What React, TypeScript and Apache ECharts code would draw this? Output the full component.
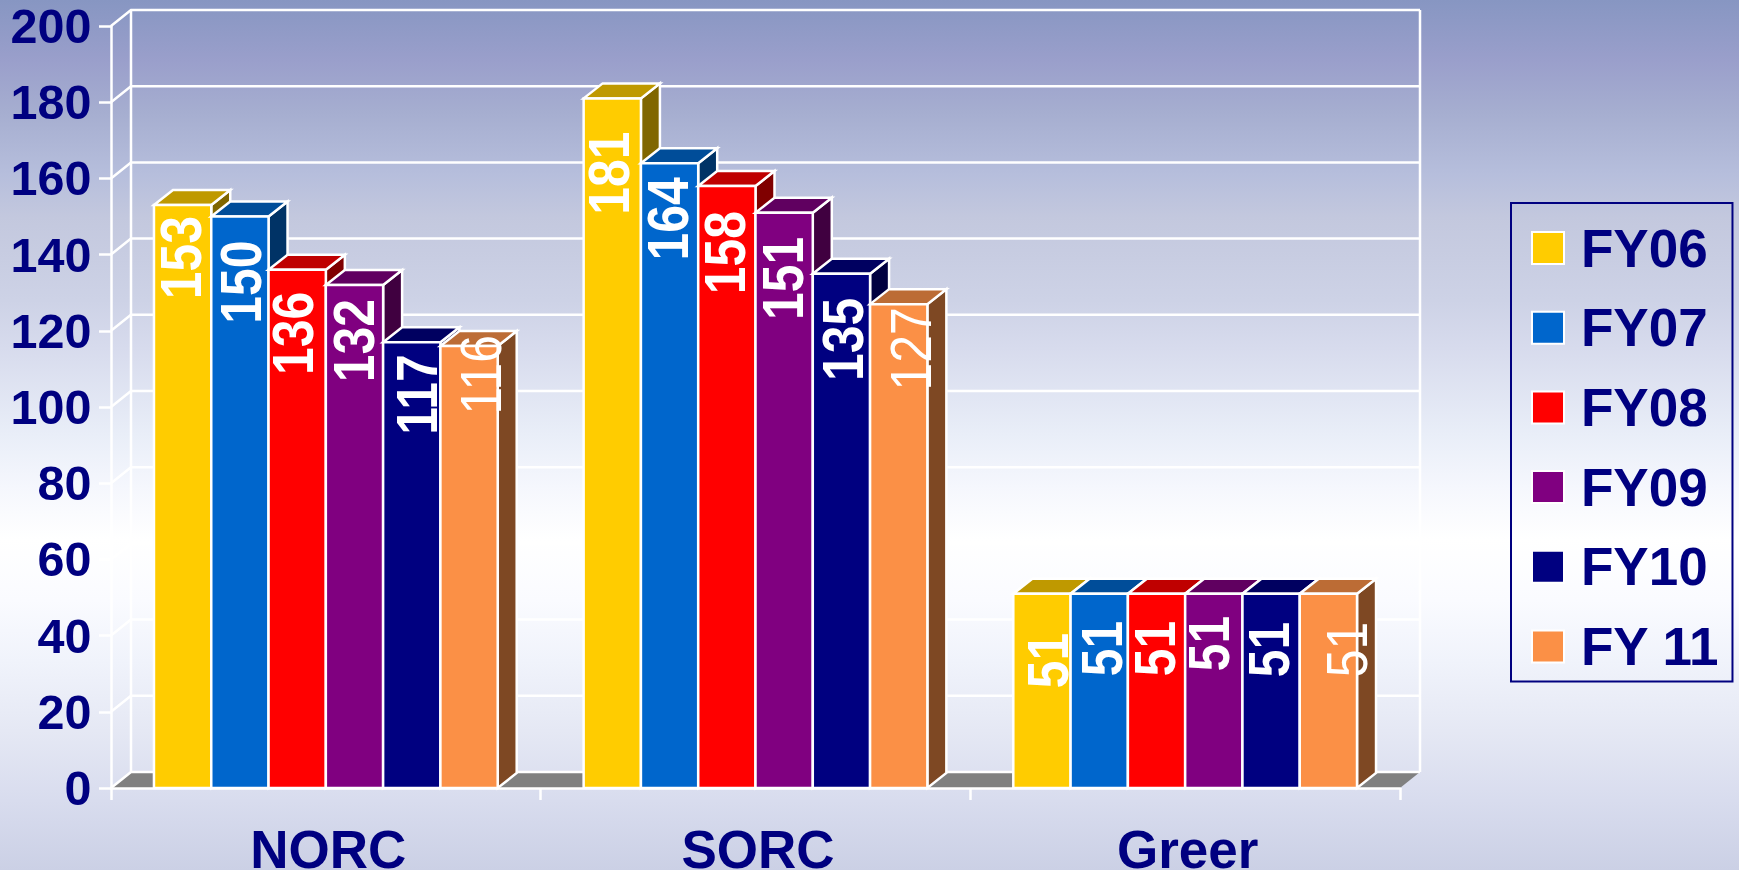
import React, { useEffect, useRef } from "react";
import * as echarts from "echarts";

const categories = ["NORC", "SORC", "Greer"];
const seriesNames = ["FY06", "FY07", "FY08", "FY09", "FY10", "FY 11"];
const fy06 = [153, 181, 51];
const fy07 = [150, 164, 51];
const fy08 = [136, 158, 51];
const fy09 = [132, 151, 51];
const fy10 = [117, 135, 51];
const fy11 = [116, 127, 51];
const yTicks = [0, 20, 40, 60, 80, 100, 120, 140, 160, 180, 200];

const seriesValues = [fy06, fy07, fy08, fy09, fy10, fy11];
const seriesColors = ["#FFCC00", "#0066CC", "#FF0000", "#800080", "#000080", "#FB9046"];

// hand-placed label offsets of the original slide (series by category)
const labelShiftX = [
  [-2, -4, 6],
  [1, -2, 3],
  [-4, -2, -2],
  [-1, -1, -5],
  [5, 1, -2],
  [12, 12, 18],
];
const labelShiftY = [
  [11, 33, 39],
  [24, 14, 27],
  [22, 25, 27],
  [14, 24, 22],
  [12, 24, 28],
  [-11, 3, 28],
];

const NAVY = "#000080";
const FONT = '"Liberation Sans", Arial, sans-serif';
const WALL_DX = 20;
const WALL_DY = 16;
const BOX_DX = 19;
const BOX_DY = 15;
const LINE_W = 2.5;

function shade(hex: string, k: number) {
  const n = parseInt(hex.slice(1), 16);
  const r = Math.round(((n >> 16) & 255) * k);
  const g = Math.round(((n >> 8) & 255) * k);
  const b = Math.round((n & 255) * k);
  return `rgb(${r},${g},${b})`;
}

function renderWall(params: any, api: any) {
  const v = api.value(1);
  const cs = params.coordSys;
  const y = api.coord([0, v])[1];
  const x0 = cs.x;
  const x1 = cs.x + cs.width;
  const line = { stroke: "#ffffff", lineWidth: LINE_W, fill: "none" };
  const children: any[] = [];
  if (v === 0) {
    children.push({
      type: "polygon",
      shape: {
        points: [
          [x0, y],
          [x0 + WALL_DX, y - WALL_DY],
          [x1 + WALL_DX, y - WALL_DY],
          [x1, y],
        ],
      },
      style: { fill: "#808080", stroke: "none" },
    });
    const top = cs.y - WALL_DY;
    const bottom = y - WALL_DY;
    [x0 + WALL_DX, x1 + WALL_DX].forEach((x) =>
      children.push({
        type: "line",
        shape: { x1: x, y1: top, x2: x, y2: bottom },
        style: { stroke: "#ffffff", lineWidth: LINE_W },
      })
    );
  }
  children.push({
    type: "polyline",
    shape: {
      points: [
        [x0, y],
        [x0 + WALL_DX, y - WALL_DY],
        [x1 + WALL_DX, y - WALL_DY],
      ],
    },
    style: line,
  });
  return { type: "group", children };
}

function makeRenderBox(seriesIdx: number) {
  const color = seriesColors[seriesIdx];
  return (_params: any, api: any) => {
    const cat = api.value(0);
    const val = api.value(1);
    const [cx, yTop] = api.coord([cat, val]);
    const yBase = api.coord([cat, 0])[1];
    const barW = api.size([1, 0])[0] / 7.5;
    const xL = cx - 3 * barW + seriesIdx * barW;
    const xR = xL + barW;
    const edge = { stroke: "#ffffff", lineWidth: LINE_W, lineJoin: "miter" };
    return {
      type: "group",
      children: [
        {
          type: "polygon",
          shape: {
            points: [
              [xR, yTop],
              [xR + BOX_DX, yTop - BOX_DY],
              [xR + BOX_DX, yBase - BOX_DY],
              [xR, yBase],
            ],
          },
          style: { fill: shade(color, 0.5), ...edge },
        },
        {
          type: "polygon",
          shape: {
            points: [
              [xL, yTop],
              [xL + BOX_DX, yTop - BOX_DY],
              [xR + BOX_DX, yTop - BOX_DY],
              [xR, yTop],
            ],
          },
          style: { fill: shade(color, 0.75), ...edge },
        },
        {
          type: "rect",
          shape: { x: xL, y: yTop, width: barW, height: yBase - yTop },
          style: { fill: color, ...edge },
        },
        {
          type: "text",
          x: xL + barW / 2 + labelShiftX[seriesIdx][cat],
          y: yTop + labelShiftY[seriesIdx][cat],
          rotation: Math.PI / 2,
          scaleX: 0.96,
          scaleY: 1.1,
          z2: 20,
          style: {
            text: String(val),
            fill: "#ffffff",
            font: `${seriesIdx === 5 ? "normal" : "bold"} 52px ${FONT}`,
            align: "right",
            verticalAlign: "middle",
          },
        },
      ],
    };
  };
}

export default function App() {
  const ref = useRef<HTMLDivElement>(null);
  useEffect(() => {
    document.body.style.margin = "0";
    document.body.style.overflow = "hidden";
    const chart = echarts.init(ref.current!, undefined, { renderer: "svg" });
    chart.setOption({
      animation: false,
      backgroundColor: {
        type: "linear",
        x: 0,
        y: 0,
        x2: 0,
        y2: 1,
        colorStops: [
          { offset: 0, color: "#8796c2" },
          { offset: 0.07, color: "#9a9fcb" },
          { offset: 0.13, color: "#a6aed0" },
          { offset: 0.2, color: "#b6bedc" },
          { offset: 0.25, color: "#c3c8de" },
          { offset: 0.345, color: "#cdd2e6" },
          { offset: 0.4, color: "#d7dbed" },
          { offset: 0.5, color: "#e9eef8" },
          { offset: 0.56, color: "#f5f7fd" },
          { offset: 0.62, color: "#ffffff" },
          { offset: 0.69, color: "#fafbff" },
          { offset: 0.76, color: "#f0f3fb" },
          { offset: 0.84, color: "#e5e8f4" },
          { offset: 0.92, color: "#d8dcee" },
          { offset: 1, color: "#cbd0e5" },
        ],
      },
      grid: {
        left: 111,
        right: 339,
        top: 26,
        bottom: 82,
        containLabel: false,
        outerBoundsMode: "none",
      },
      xAxis: {
        type: "category",
        data: categories,
        z: 5,
        axisLine: { show: true, lineStyle: { color: "#ffffff", width: LINE_W } },
        axisTick: { show: true, length: 12, lineStyle: { color: "#ffffff", width: LINE_W } },
        axisLabel: {
          color: NAVY,
          fontFamily: FONT,
          fontWeight: "bold",
          fontSize: 53,
          lineHeight: 42,
          margin: 40,
          interval: 0,
          padding: [0, 0, 0, 5],
        },
        splitLine: { show: false },
      },
      yAxis: {
        type: "value",
        min: 0,
        max: 200,
        interval: 20,
        z: 5,
        axisLine: { show: true, lineStyle: { color: "#ffffff", width: LINE_W } },
        axisTick: { show: true, length: 12, lineStyle: { color: "#ffffff", width: LINE_W } },
        axisLabel: {
          color: NAVY,
          fontFamily: FONT,
          fontWeight: "bold",
          fontSize: 48.5,
          margin: 19.5,
        },
        splitLine: { show: false },
      },
      legend: {
        show: true,
        orient: "vertical",
        left: 1511,
        top: 203,
        data: seriesNames,
        icon: "rect",
        selectedMode: false,
        itemWidth: 32,
        itemHeight: 32,
        itemGap: 23.7,
        padding: [17, 13, 7, 20],
        borderColor: NAVY,
        borderWidth: 2,
        itemStyle: { borderColor: "#ffffff", borderWidth: 2 },
        textStyle: {
          color: NAVY,
          fontFamily: FONT,
          fontWeight: "bold",
          fontSize: 53,
          lineHeight: 53,
          padding: [3, 0, 0, 12],
        },
      },
      series: [
        {
          type: "custom",
          name: "wall",
          z: 1,
          silent: true,
          renderItem: renderWall,
          encode: { x: 0, y: 1 },
          data: yTicks.map((v) => [categories[0], v]),
        },
        ...seriesNames.map((name, i) => ({
          type: "custom",
          name,
          z: 2 + i,
          silent: true,
          itemStyle: { color: seriesColors[i] },
          renderItem: makeRenderBox(i),
          encode: { x: 0, y: 1 },
          data: categories.map((c, k) => [c, seriesValues[i][k]]),
        })),
      ],
    });
    return () => chart.dispose();
  }, []);
  return (
    <div
      ref={ref}
      style={{ position: "absolute", left: 0, top: 0, width: 1739, height: 870 }}
    />
  );
}
